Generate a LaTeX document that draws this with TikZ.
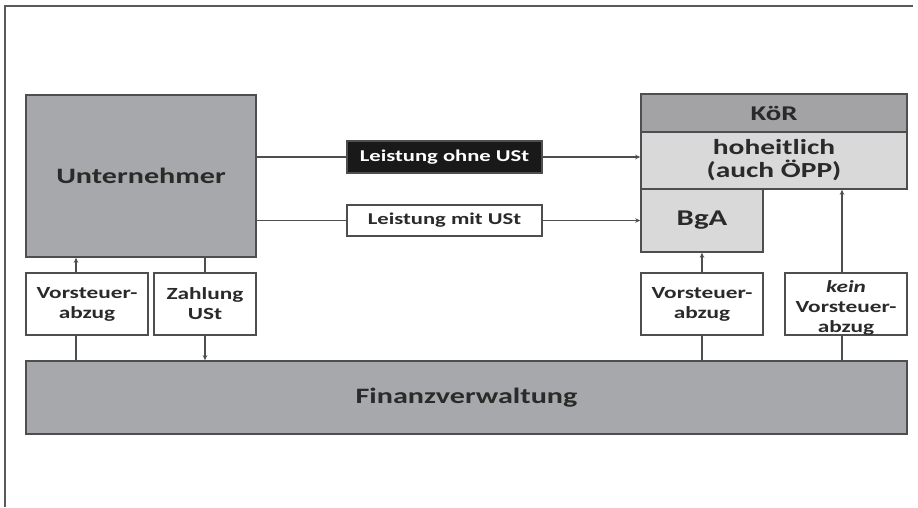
\documentclass[tikz,border=0pt]{standalone}
\usepackage{fontspec}
\setmainfont{Carlito}
\usetikzlibrary{arrows.meta}
\definecolor{boxgray}{HTML}{A7A8AB}
\definecolor{hdrgray}{HTML}{A3A3A5}
\definecolor{lightfill}{HTML}{D9D9DA}
\definecolor{edgecol}{HTML}{4E4E50}
\definecolor{txtcol}{HTML}{2A2A2A}
\definecolor{framecol}{HTML}{5A5A5A}
\newcommand{\sx}[1]{\scalebox{1.37}[1]{#1}}
\tikzset{
  box/.style={draw=edgecol, line width=1.6pt, fill=boxgray, text=txtcol, font=\bfseries, inner sep=0pt, align=center},
  lightbox/.style={box, fill=lightfill},
  whitebox/.style={box, fill=white},
  blackbox/.style={box, fill=black!90, text=white},
  conn/.style={draw=edgecol, line width=1.2pt},
  arr/.style={conn, -{Stealth[length=5pt,width=4.5pt]}},
}
\begin{document}
\begin{tikzpicture}[x=1pt,y=-1pt]
\useasboundingbox (0,0) rectangle (918,507);
% frame
\draw[framecol, line width=1.5pt] (5,507) -- (5,6) -- (913,6);
% main boxes
\node[box, minimum width=230, minimum height=162, font=\bfseries\fontsize{22}{26}\selectfont] (U) at (141,176) {\sx{Unternehmer}};
\node[box, minimum width=881, minimum height=73, font=\bfseries\fontsize{22}{26}\selectfont] (F) at (466.5,397.5) {\sx{Finanzverwaltung}};
% KoeR
\node[box, fill=hdrgray, minimum width=266, minimum height=38, font=\bfseries\fontsize{21}{24}\selectfont] (K) at (774,113) {\sx{KöR}};
\node[lightbox, minimum width=266, minimum height=57, font=\bfseries\fontsize{21.5}{24}\selectfont] (H) at (774,160.5) {\sx{hoheitlich}\\[-1pt]\sx{(auch ÖPP)}};
\node[lightbox, minimum width=122, minimum height=63, font=\bfseries\fontsize{22.5}{26}\selectfont] (B) at (702,220.5) {\sx{BgA}};
% small boxes
\node[whitebox, minimum width=122, minimum height=62, font=\bfseries\fontsize{17}{20}\selectfont] (VL) at (87,304) {\sx{Vorsteuer-}\\\sx{abzug}};
\node[whitebox, minimum width=102, minimum height=62, font=\bfseries\fontsize{17}{20}\selectfont] (ZU) at (205,304) {\sx{Zahlung}\\\sx{USt}};
\node[whitebox, minimum width=122, minimum height=62, font=\bfseries\fontsize{17}{20}\selectfont] (VR) at (702,304) {\sx{Vorsteuer-}\\\sx{abzug}};
\node[whitebox, minimum width=122, minimum height=62, font=\bfseries\fontsize{17}{20}\selectfont] (KV) at (846,304) {};
\node[text=txtcol, font=\bfseries\fontsize{17}{20}\selectfont, align=center, inner sep=0pt] (KVt) at (846,308) {\sx{\itshape kein}\\\sx{Vorsteuer-}\\\sx{abzug}};
% Leistung boxes
\node[blackbox, minimum width=195, minimum height=32, font=\bfseries\fontsize{16.5}{19}\selectfont] (LO) at (444.5,157) {\sx{Leistung ohne USt}};
\node[whitebox, minimum width=195, minimum height=31, font=\bfseries\fontsize{16.5}{19}\selectfont] (LM) at (444.5,220.5) {\sx{Leistung mit USt}};
% connectors
\coordinate (c1) at (76,0);
\coordinate (c4) at (842,0);
\draw[conn] (U.east |- LO.west) -- (LO.west);
\draw[arr] (LO.east) -- (LO.east -| H.west);
\draw[conn] (U.east |- LM.west) -- (LM.west);
\draw[arr] (LM.east) -- (LM.east -| B.west);
\draw[conn] (c1 |- F.north) -- (c1 |- VL.south);
\draw[arr] (c1 |- VL.north) -- (c1 |- U.south);
\draw[conn] (ZU.north |- U.south) -- (ZU.north);
\draw[arr] (ZU.south) -- (ZU.south |- F.north);
\draw[conn] (VR.south |- F.north) -- (VR.south);
\draw[arr] (VR.north) -- (B.south);
\draw[conn] (c4 |- F.north) -- (c4 |- KV.south);
\draw[arr] (c4 |- KV.north) -- (c4 |- H.south);
\end{tikzpicture}
\end{document}
